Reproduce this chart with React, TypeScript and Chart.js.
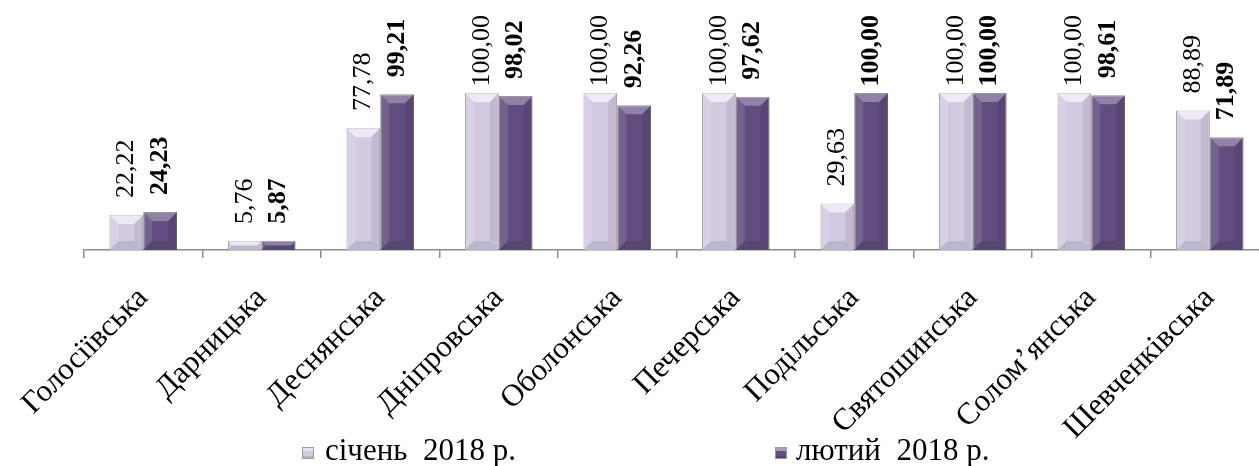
import React, { useEffect, useRef } from "react";
import { Chart, registerables } from "chart.js";

Chart.register(...registerables);

const categories = [
  "Голосіївська",
  "Дарницька",
  "Деснянська",
  "Дніпровська",
  "Оболонська",
  "Печерська",
  "Подільська",
  "Святошинська",
  "Солом’янська",
  "Шевченківська",
];
const january = [22.22, 5.76, 77.78, 100, 100, 100, 29.63, 100, 100, 88.89];
const february = [24.23, 5.87, 99.21, 98.02, 92.26, 97.62, 100, 100, 98.61, 71.89];
const seriesNames = ["січень  2018 р.", "лютий  2018 р."];

const FONT = "'Liberation Serif', 'Times New Roman', serif";
const LIGHT = "#D3CAE2";
const DARK = "#614D7F";

const fmt = (v: number) => v.toFixed(2).replace(".", ",");

const bevelPlugin = {
  id: "bevel",
  afterDatasetsDraw(chart: any) {
    const ctx = chart.ctx;
    ctx.save();
    chart.data.datasets.forEach((ds: any, i: number) => {
      const meta = chart.getDatasetMeta(i);
      meta.data.forEach((bar: any) => {
        const { x, y, base, width } = bar.getProps(["x", "y", "base", "width"], true);
        const l = x - width / 2;
        const r = x + width / 2;
        const t = y;
        const b = base;
        const h = b - t;
        const bv = Math.min(9, h / 2, width / 2);
        const poly = (pts: number[][], fill: string) => {
          ctx.beginPath();
          ctx.moveTo(pts[0][0], pts[0][1]);
          for (let k = 1; k < pts.length; k++) ctx.lineTo(pts[k][0], pts[k][1]);
          ctx.closePath();
          ctx.fillStyle = fill;
          ctx.fill();
        };
        poly([[l, t], [r, t], [r - bv, t + bv], [l + bv, t + bv]], i === 0 ? "rgba(255,255,255,0.6)" : "rgba(255,255,255,0.3)");
        poly([[l, t], [l + bv, t + bv], [l + bv, b - bv], [l, b]], "rgba(255,255,255,0.12)");
        poly([[r, t], [r, b], [r - bv, b - bv], [r - bv, t + bv]], "rgba(0,0,0,0.08)");
        poly([[l, b], [r, b], [r - bv, b - bv], [l + bv, b - bv]], "rgba(0,0,0,0.1)");
      });
    });
    ctx.restore();
  },
};

const valueLabelPlugin = {
  id: "valueLabels",
  afterDatasetsDraw(chart: any) {
    const ctx = chart.ctx;
    ctx.save();
    chart.data.datasets.forEach((ds: any, i: number) => {
      const meta = chart.getDatasetMeta(i);
      ctx.font = (i === 1 ? "bold " : "") + "26px " + FONT;
      ctx.fillStyle = "#000";
      ctx.textAlign = "left";
      ctx.textBaseline = "middle";
      meta.data.forEach((bar: any, j: number) => {
        const { x, y } = bar.getProps(["x", "y"], true);
        const text = fmt(ds.data[j]);
        const w = ctx.measureText(text).width;
        const bottom = Math.max(y - 17, 15 + w);
        ctx.save();
        ctx.translate(x, bottom);
        ctx.rotate(-Math.PI / 2);
        ctx.fillText(text, 0, 0);
        ctx.restore();
      });
    });
    ctx.restore();
  },
};

export default function App() {
  const ref = useRef<HTMLCanvasElement | null>(null);

  useEffect(() => {
    const prevMargin = document.body.style.margin;
    document.body.style.margin = "0";
    const canvas = ref.current!;
    const chart = new Chart(canvas, {
      type: "bar",
      data: {
        labels: categories,
        datasets: [
          {
            label: seriesNames[0],
            data: january,
            backgroundColor: LIGHT,
            borderColor: "#9a9a9a",
            borderWidth: 1,
            categoryPercentage: 0.57,
            barPercentage: 1,
          },
          {
            label: seriesNames[1],
            data: february,
            backgroundColor: DARK,
            borderColor: "#6f6f6f",
            borderWidth: 1,
            categoryPercentage: 0.57,
            barPercentage: 1,
          },
        ],
      },
      options: {
        animation: false,
        responsive: false,
        maintainAspectRatio: false,
        layout: { padding: { left: 84, right: 0, top: 93, bottom: 0 } },
        plugins: {
          legend: { display: false },
          tooltip: { enabled: false },
        },
        scales: {
          x: {
            grid: {
              display: true,
              drawOnChartArea: false,
              drawTicks: true,
              tickLength: 8,
              color: "#8c8c8c",
              lineWidth: 1.5,
              offset: true,
            },
            border: { display: true, color: "#8c8c8c", width: 1.5 },
            ticks: {
              minRotation: 45,
              maxRotation: 45,
              autoSkip: false,
              padding: 22,
              color: "#000",
              font: { family: FONT, size: 31 },
            },
            afterFit: (s: any) => {
              s.height = 216;
              s.paddingLeft = 0;
              s.paddingRight = 0;
            },
          },
          y: { display: false, min: 0, max: 100 },
        },
      },
      plugins: [bevelPlugin, valueLabelPlugin],
    });
    return () => {
      chart.destroy();
      document.body.style.margin = prevMargin;
    };
  }, []);

  const legendText: React.CSSProperties = {
    position: "absolute",
    fontFamily: FONT,
    fontSize: 31,
    lineHeight: "31px",
    whiteSpace: "pre",
    color: "#000",
  };
  const sq = (color: string, left: number): React.CSSProperties => ({
    position: "absolute",
    left,
    top: 447,
    width: 12,
    height: 12,
    background: color,
    boxShadow: "inset 0 3px 0 rgba(255,255,255,0.45), inset 0 -2px 0 rgba(0,0,0,0.12)",
    border: "1px solid #9a9a9a",
    boxSizing: "border-box",
  });

  return (
    <div style={{ position: "absolute", left: 0, top: 0, width: 1259, height: 466, overflow: "hidden", background: "#fff" }}>
      <canvas ref={ref} width={1269} height={466} style={{ position: "absolute", left: 0, top: 0, width: 1269, height: 466 }} />
      <div style={sq(LIGHT, 302)} />
      <div style={{ ...legendText, left: 325, top: 434 }}>{seriesNames[0]}</div>
      <div style={sq(DARK, 775)} />
      <div style={{ ...legendText, left: 796, top: 434 }}>{seriesNames[1]}</div>
    </div>
  );
}
